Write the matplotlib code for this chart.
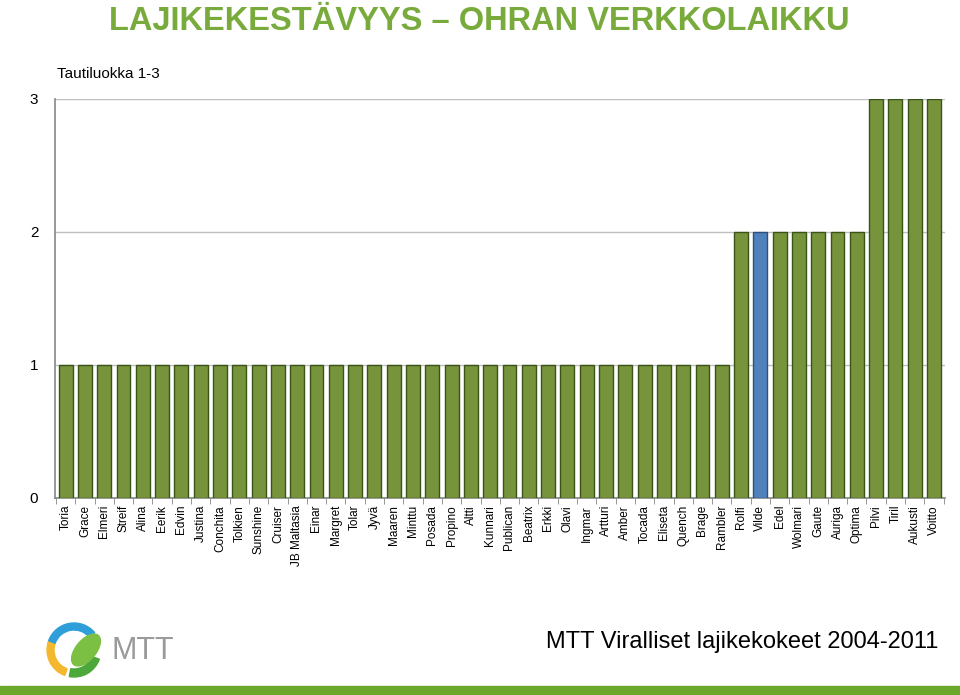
import matplotlib.pyplot as plt
from matplotlib.patches import Wedge, Ellipse, Rectangle
import numpy as np

lajikkeet = ["Toria", "Grace", "Elmeri", "Streif", "Alina", "Eerik", "Edvin", "Justina",
             "Conchita", "Tolkien", "Sunshine", "Cruiser", "JB Maltasia", "Einar", "Margret",
             "Tolar", "Jyvä", "Maaren", "Minttu", "Posada", "Propino", "Altti", "Kunnari",
             "Publican", "Beatrix", "Erkki", "Olavi", "Ingmar", "Artturi", "Amber", "Tocada",
             "Eliseta", "Quench", "Brage", "Rambler", "Rolfi", "Vilde", "Edel", "Wolmari",
             "Gaute", "Auriga", "Optima", "Pilvi", "Tiril", "Aukusti", "Voitto"]
tautiluokka = [1] * 35 + [2] * 7 + [3] * 4
korostettu = ["Vilde"]

plt.rcParams['font.family'] = ['Liberation Sans', 'DejaVu Sans']

fig = plt.figure(figsize=(9.6, 6.95), dpi=100)
ax = fig.add_axes([0.0573, 0.2835, 0.9267, 0.5741])

x = np.arange(len(lajikkeet))
varit = ['#4F81BD' if n in korostettu else '#77933C' for n in lajikkeet]
reunat = ['#2F4F7A' if n in korostettu else '#3A5418' for n in lajikkeet]
ax.bar(x, tautiluokka, width=0.72, color=varit, edgecolor=reunat, linewidth=1, zorder=3)

ax.set_xlim(-0.55, len(lajikkeet) - 0.45)
ax.set_ylim(0, 3)
ax.set_yticks([0, 1, 2, 3])
ax.yaxis.grid(True, color='#BFBFBF', linewidth=1, zorder=0)
ax.tick_params(axis='y', length=0, labelsize=11, pad=12)
ax.set_xticks(x)
ax.set_xticklabels(lajikkeet, rotation=90, fontsize=8.5)
ax.tick_params(axis='x', which='major', length=0, pad=5)
ax.set_xticks(np.arange(len(lajikkeet) + 1) - 0.5, minor=True)
ax.tick_params(axis='x', which='minor', length=4, color='#868686')
for s in ['top', 'right']:
    ax.spines[s].set_visible(False)
for s in ['left', 'bottom']:
    ax.spines[s].set_color('#868686')
    ax.spines[s].set_linewidth(1.2)

fig.text(0.0594, 0.883, "Tautiluokka 1-3", fontsize=11, ha='left', va='bottom')
fig.text(0.4995, 0.969, "LAJIKEKESTÄVYYS – OHRAN VERKKOLAIKKU", fontsize=23.5,
         fontweight='bold', color='#78AB3C', ha='center', va='center')
fig.text(0.9775, 0.076, "MTT Viralliset lajikekokeet 2004-2011", fontsize=17,
         ha='right', va='center')

# logo ja alapalkki
la = fig.add_axes([0, 0, 1, 1], zorder=-1)
la.set_xlim(0, 960)
la.set_ylim(695, 0)
la.axis('off')
la.add_patch(Rectangle((0, 686), 960, 9, color='#6AA72A'))
la.add_patch(Wedge((74, 650), 27, 110, 200, width=7, color='#F4B830'))
la.add_patch(Wedge((74, 650), 27, 200, 320, width=7, color='#2E9FD8'))
la.add_patch(Wedge((74, 650), 27, 20, 100, width=8, color='#4CA83A'))
la.add_patch(Ellipse((86, 650), 20, 38, angle=40, color='#7BC043'))
la.text(111, 651, "MTT", fontsize=22, color='#9A9A9A', ha='left', va='center')

fig.savefig("out.png", dpi=100)
